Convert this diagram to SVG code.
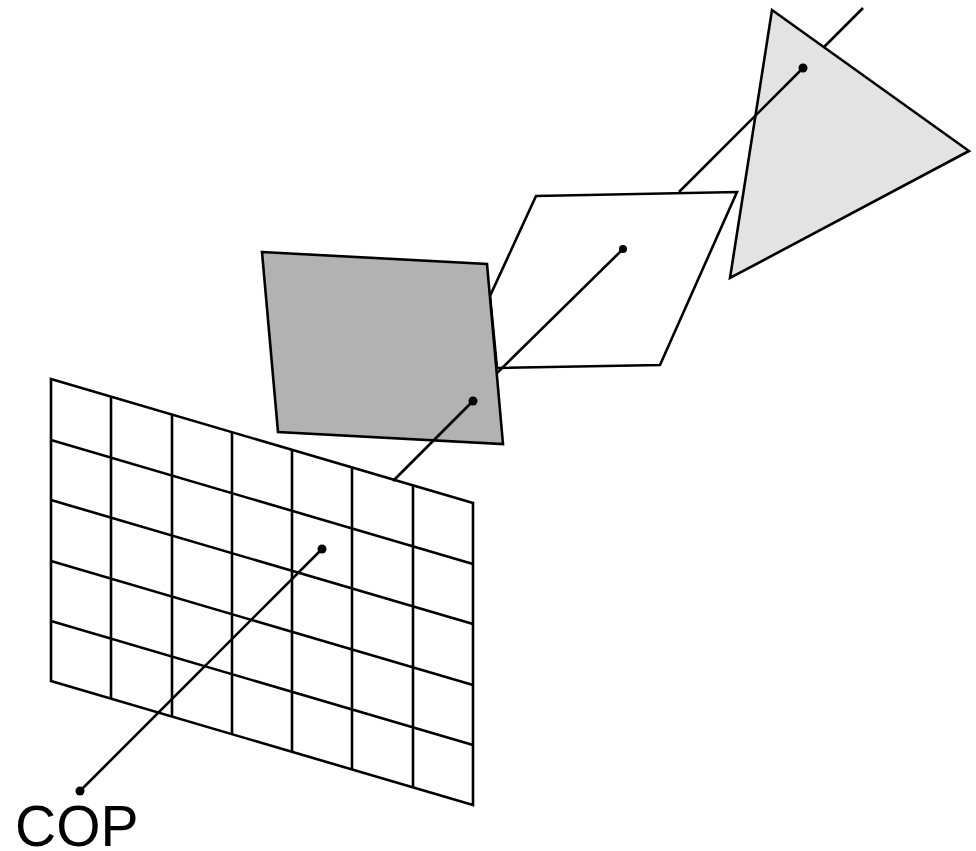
<svg xmlns="http://www.w3.org/2000/svg" width="976" height="851" viewBox="0 0 976 851">
<style>
.o{stroke:#000;stroke-width:2.6;stroke-linejoin:miter}
.l{stroke:#000;stroke-width:2.6;fill:none}
.d{fill:#000}
text{font-family:"Liberation Sans",Arial,sans-serif;font-size:57px;fill:#000}
</style>
<rect width="976" height="851" fill="#fff"/>
<g id="triangle"><polygon class="o" fill="#e3e3e3" points="772,10 969,151 730,278"/></g>
<g id="white-plane"><polygon class="o" fill="none" points="536,196 737,192 660,365 497,368 490,296"/></g>
<g id="gray-plane"><polygon class="o" fill="#b2b2b2" points="262,252 487,264 503,444 278,432"/></g>
<g id="grid">
<polygon class="l" points="51,379 473,503 473,805 51,681"/>
<path class="l" d="M111,397V699M172,415V716M232,433V734M292,450V752M352,468V770M413,486V787M51,440L473,564M51,500L473,624M51,561L473,685M51,621L473,745"/>
</g>
<g id="connectors">
<line class="l" x1="824" y1="47" x2="863" y2="8"/>
<line class="l" x1="803" y1="68" x2="679" y2="192"/>
<line class="l" x1="623" y1="249" x2="497" y2="373"/>
<line class="l" x1="473" y1="401" x2="393" y2="481"/>
<line class="l" x1="322" y1="549" x2="80" y2="791"/>
</g>
<g id="dots">
<circle class="d" cx="803" cy="68" r="4.5"/>
<circle class="d" cx="623" cy="249" r="4"/>
<circle class="d" cx="473" cy="401" r="4.5"/>
<circle class="d" cx="322" cy="549" r="4.5"/>
<circle class="d" cx="80" cy="791" r="4.5"/>
</g>
<g id="cop"><text x="15" y="846">COP</text></g>
</svg>
